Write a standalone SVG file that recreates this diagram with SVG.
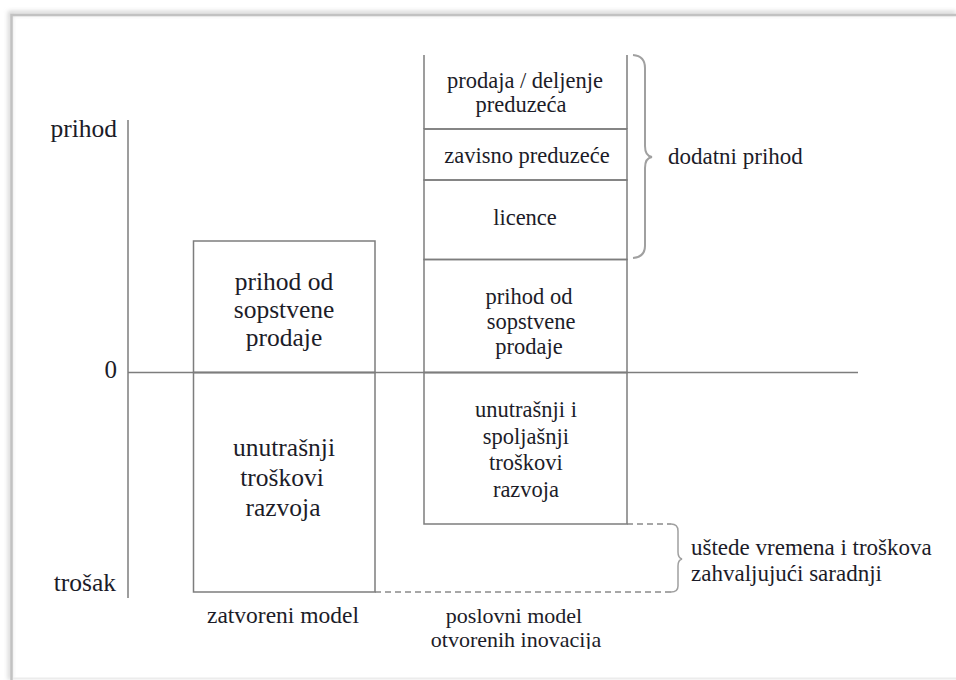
<svg xmlns="http://www.w3.org/2000/svg" width="956" height="680" viewBox="0 0 956 680">
<defs>
<style>
text{font-family:'Liberation Serif','DejaVu Serif',serif;fill:#1c1c28;}
.c{text-anchor:middle;}
.r{text-anchor:end;}
.ln{stroke:#7d7d7d;stroke-width:1.5;fill:none;}
.br{stroke:#a0a0a0;stroke-width:2;fill:none;}
.dash{stroke:#8a8a8a;stroke-width:1.5;fill:none;stroke-dasharray:6 4;}
</style>
<filter id="sh" x="-5%" y="-5%" width="110%" height="110%">
<feGaussianBlur stdDeviation="2"/>
</filter>
<clipPath id="clipBottom"><rect x="0" y="0" width="956" height="649"/></clipPath>
</defs>
<rect width="956" height="680" fill="#ffffff"/>
<g id="frame">
<path d="M10,680 L10,13 L956,13" fill="none" stroke="#d4d4d4" stroke-width="4" filter="url(#sh)"/>
<path d="M11.5,680 L11.5,15 L956,15" fill="none" stroke="#c2c2c2" stroke-width="2.5"/>
<line x1="13" y1="678.5" x2="956" y2="678.5" stroke="#ececec" stroke-width="2"/>
</g>
<g id="connectors">
<line class="ln" x1="128" y1="120" x2="128" y2="598"/>
<line class="ln" x1="128" y1="372.5" x2="858" y2="372.5"/>
<path class="br" d="M633,55 Q645,56 645,68 L645,146 Q645,156 652,157 Q645,158 645,168 L645,246 Q645,257 633,258"/>
<path class="dash" d="M627,524 L671,524"/>
<path class="dash" d="M375,592 L671,592"/>
<path class="br" style="stroke-width:1.5" d="M671,524 Q678,524 678,531 L678,552 Q678,558 682,559 Q678,560 678,566 L678,586 Q678,592 671,592"/>
</g>
<g id="axis-labels">
<text class="r" x="117" y="137" font-size="25.5">prihod</text>
<text class="r" x="117" y="378" font-size="25">0</text>
<text class="r" x="116" y="591" font-size="25.5">trošak</text>
</g>
<g id="closed-revenue">
<rect class="ln" x="193.5" y="241" width="181.5" height="131.5"/>
<text class="c" x="284" y="290" font-size="25.5">prihod od</text>
<text class="c" x="284" y="318" font-size="25.5">sopstvene</text>
<text class="c" x="284" y="346" font-size="25.5">prodaje</text>
</g>
<g id="closed-cost">
<rect class="ln" x="193.5" y="372.5" width="181.5" height="219.5"/>
<text class="c" x="284" y="456" font-size="25.5">unutrašnji</text>
<text class="c" x="282" y="486" font-size="25.5">troškovi</text>
<text class="c" x="283" y="516" font-size="25.5">razvoja</text>
</g>
<g id="open-sale">
<path class="ln" d="M424,55 L424,129 M627,55 L627,129"/>
<line class="ln" x1="424" y1="129" x2="627" y2="129"/>
<text class="c" x="525" y="88" font-size="22.5">prodaja / deljenje</text>
<text class="c" x="521" y="112" font-size="22.5">preduzeća</text>
</g>
<g id="open-subsidiary">
<rect class="ln" x="424" y="129" width="203" height="51"/>
<text class="c" x="527" y="163" font-size="22.5">zavisno preduzeće</text>
</g>
<g id="open-licence">
<rect class="ln" x="424" y="180" width="203" height="79.5"/>
<text class="c" x="525" y="225" font-size="22.5">licence</text>
</g>
<g id="open-revenue">
<rect class="ln" x="424" y="259.5" width="203" height="113"/>
<text class="c" x="529" y="304" font-size="22.5">prihod od</text>
<text class="c" x="531" y="329" font-size="22.5">sopstvene</text>
<text class="c" x="529" y="354" font-size="22.5">prodaje</text>
</g>
<g id="open-cost">
<rect class="ln" x="424" y="372.5" width="203" height="151.5"/>
<text class="c" x="526" y="417" font-size="22.5">unutrašnji i</text>
<text class="c" x="526" y="444" font-size="22.5">spoljašnji</text>
<text class="c" x="526" y="470" font-size="22.5">troškovi</text>
<text class="c" x="526" y="497" font-size="22.5">razvoja</text>
</g>
<g id="label-additional">
<text x="668" y="164" font-size="23">dodatni prihod</text>
</g>
<g id="label-savings">
<text x="691" y="555" font-size="23">uštede vremena i troškova</text>
<text x="691" y="581" font-size="23">zahvaljujući saradnji</text>
</g>
<g id="label-closed">
<text class="c" x="283" y="623" font-size="23.5">zatvoreni model</text>
</g>
<g id="label-open" clip-path="url(#clipBottom)">
<text class="c" x="514" y="623" font-size="22">poslovni model</text>
<text class="c" x="516" y="647" font-size="22">otvorenih inovacija</text>
</g>
</svg>
